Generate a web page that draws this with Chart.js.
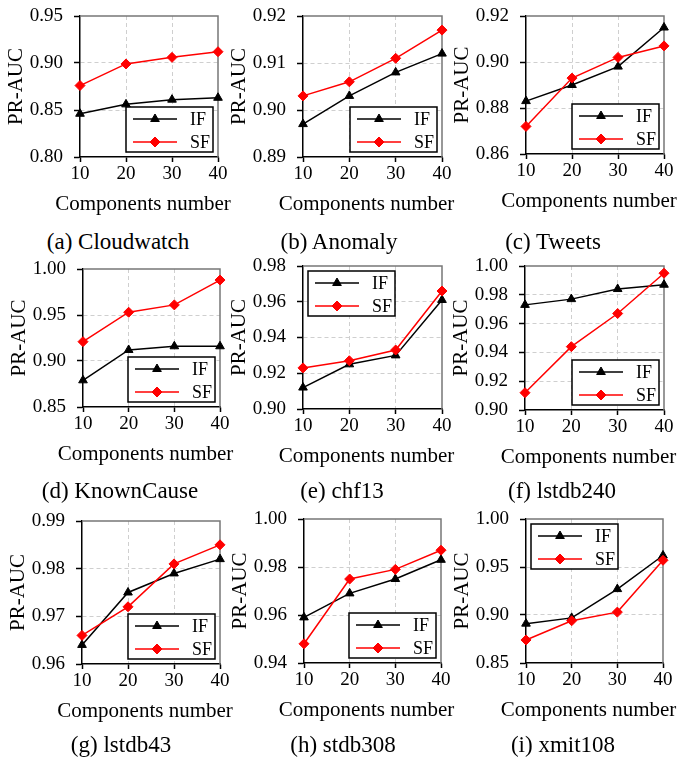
<!DOCTYPE html>
<html>
<head>
<meta charset="utf-8">
<script src="https://cdn.jsdelivr.net/npm/chart.js@4/dist/chart.umd.min.js"></script>
<style>
  html, body { margin:0; padding:0; background:#fff; }
  #page { position:relative; width:677px; height:761px; overflow:hidden; background:#fff; }
  canvas { position:absolute; }
  .cap { position:absolute; width:220px; text-align:center; font-family:"Liberation Serif","Times New Roman",serif; font-size:23px; line-height:26px; color:#000; white-space:nowrap; }
</style>
</head>
<body>
<div id="page"></div>
<script>
// ---------- data ----------
const components = ['10', '20', '30', '40'];
const xTitle = 'Components number';
const yTitle = 'PR-AUC';

const cloudwatchIF = [0.846, 0.856, 0.861, 0.863];
const cloudwatchSF = [0.876, 0.899, 0.906, 0.912];
const cloudwatchTicks = [0.80, 0.85, 0.90, 0.95];

const anomalyIF = [0.897, 0.903, 0.908, 0.912];
const anomalySF = [0.903, 0.906, 0.911, 0.917];
const anomalyTicks = [0.89, 0.90, 0.91, 0.92];

const tweetsIF = [0.883, 0.890, 0.898, 0.915];
const tweetsSF = [0.872, 0.893, 0.902, 0.907];
const tweetsTicks = [0.86, 0.88, 0.90, 0.92];

const knownCauseIF = [0.879, 0.912, 0.916, 0.916];
const knownCauseSF = [0.921, 0.953, 0.961, 0.988];
const knownCauseTicks = [0.85, 0.90, 0.95, 1.00];

const chf13IF = [0.912, 0.925, 0.930, 0.961];
const chf13SF = [0.923, 0.927, 0.933, 0.966];
const chf13Ticks = [0.90, 0.92, 0.94, 0.96, 0.98];

const lstdb240IF = [0.973, 0.977, 0.984, 0.987];
const lstdb240SF = [0.912, 0.944, 0.967, 0.995];
const lstdb240Ticks = [0.90, 0.92, 0.94, 0.96, 0.98, 1.00];

const lstdb43IF = [0.964, 0.975, 0.979, 0.982];
const lstdb43SF = [0.966, 0.972, 0.981, 0.985];
const lstdb43Ticks = [0.96, 0.97, 0.98, 0.99];

const stdb308IF = [0.959, 0.969, 0.975, 0.983];
const stdb308SF = [0.948, 0.975, 0.979, 0.987];
const stdb308Ticks = [0.94, 0.96, 0.98, 1.00];

const xmit108IF = [0.891, 0.897, 0.927, 0.962];
const xmit108SF = [0.874, 0.894, 0.903, 0.957];
const xmit108Ticks = [0.85, 0.90, 0.95, 1.00];

const captions = ['(a) Cloudwatch', '(b) Anomaly', '(c) Tweets', '(d) KnownCause', '(e) chf13',
                  '(f) lstdb240', '(g) lstdb43', '(h) stdb308', '(i) xmit108'];
const seriesIF = [cloudwatchIF, anomalyIF, tweetsIF, knownCauseIF, chf13IF, lstdb240IF, lstdb43IF, stdb308IF, xmit108IF];
const seriesSF = [cloudwatchSF, anomalySF, tweetsSF, knownCauseSF, chf13SF, lstdb240SF, lstdb43SF, stdb308SF, xmit108SF];
const tickSets = [cloudwatchTicks, anomalyTicks, tweetsTicks, knownCauseTicks, chf13Ticks, lstdb240Ticks, lstdb43Ticks, stdb308Ticks, xmit108Ticks];
const legendCorner = ['lr', 'lr', 'lr', 'lr', 'ul', 'lr', 'lr', 'lr', 'ul'];

// ---------- layout (plot rectangles L,T,R,B and caption centres) ----------
const plotRects = [
  [80, 16, 218, 157], [303, 16, 442, 157], [526, 16, 664, 154],
  [83, 269, 220, 407], [303, 266, 442, 409], [525, 266, 664, 410],
  [82, 521, 220, 664], [304, 519, 441, 663], [526, 519, 663, 663]
];
const captionPos = [
  [118, 242], [339, 242], [553, 242],
  [120, 491], [342, 491], [562, 491],
  [121, 745], [343, 745], [563, 745]
];

const FONT = '"Liberation Serif", "Times New Roman", serif';
Chart.defaults.font.family = FONT;
Chart.defaults.color = '#000';

function drawMarker(ctx, style, x, y, r) {
  ctx.beginPath();
  if (style === 'triangle') {
    ctx.moveTo(x, y - r);
    ctx.lineTo(x + r * 0.866, y + r * 0.5);
    ctx.lineTo(x - r * 0.866, y + r * 0.5);
  } else {
    ctx.moveTo(x, y - r);
    ctx.lineTo(x + r, y);
    ctx.lineTo(x, y + r);
    ctx.lineTo(x - r, y);
  }
  ctx.closePath();
  ctx.fill();
  ctx.stroke();
}

const frameLines = {
  id: 'frameLines',
  beforeDatasetsDraw(chart) {
    const { ctx, chartArea: a } = chart;
    ctx.save();
    ctx.strokeStyle = '#777';
    ctx.lineWidth = 1.5;
    ctx.beginPath();
    ctx.moveTo(a.left, a.top);
    ctx.lineTo(a.right, a.top);
    ctx.lineTo(a.right, a.bottom);
    ctx.stroke();
    ctx.restore();
  }
};

// x-axis title drawn without width compression
const xAxisTitle = {
  id: 'xAxisTitle',
  afterDraw(chart, args, opts) {
    const { ctx, chartArea: a } = chart;
    ctx.save();
    ctx.font = '21px ' + FONT;
    ctx.fillStyle = '#000';
    ctx.textAlign = 'center';
    ctx.textBaseline = 'middle';
    ctx.fillText(opts.text, (a.left + a.right) / 2 - 6, a.bottom + 47);
    ctx.restore();
  }
};

const insideLegend = {
  id: 'insideLegend',
  afterDatasetsDraw(chart, args, opts) {
    const { ctx, chartArea: a } = chart;
    const w = 87, h = 45, inset = 5;
    let x, y;
    if (opts.corner === 'ul') { x = a.left + inset; y = a.top + inset; }
    else { x = a.right - inset - w; y = a.bottom - inset - h; }
    ctx.save();
    ctx.fillStyle = '#fff';
    ctx.fillRect(x, y, w, h);
    ctx.lineWidth = 1.5;
    ctx.strokeStyle = '#000';
    ctx.strokeRect(x, y, w, h);
    chart.data.datasets.forEach((ds, i) => {
      const cy = y + 12 + i * 23;
      ctx.strokeStyle = ds.borderColor;
      ctx.lineWidth = ds.borderWidth;
      ctx.beginPath();
      ctx.moveTo(x + 7, cy);
      ctx.lineTo(x + 51, cy);
      ctx.stroke();
      ctx.fillStyle = ds.pointBackgroundColor;
      ctx.strokeStyle = ds.pointBorderColor;
      ctx.lineWidth = 1;
      drawMarker(ctx, ds.pointStyle, x + 29, cy, ds.pointRadius);
      ctx.fillStyle = '#000';
      ctx.font = '18px ' + FONT;
      ctx.textBaseline = 'middle';
      ctx.textAlign = 'left';
      ctx.fillText(ds.label, x + 64, cy + 1);
    });
    ctx.restore();
  }
};

const page = document.getElementById('page');

plotRects.forEach((r, i) => {
  const [L, T, R, B] = r;
  const yAxisW = 80, xAxisH = 59, padTop = 16, padRight = 22, padBottom = 3;
  const cw = (R - L) + yAxisW + padRight;
  const ch = (B - T) + padTop + xAxisH + padBottom;
  const canvas = document.createElement('canvas');
  canvas.width = cw; canvas.height = ch;
  canvas.style.left = (L - yAxisW) + 'px';
  canvas.style.top = (T - padTop) + 'px';
  canvas.style.width = cw + 'px';
  canvas.style.height = ch + 'px';
  page.appendChild(canvas);

  const ticks = tickSets[i];
  const gridColor = '#cfcfcf';

  new Chart(canvas, {
    type: 'line',
    data: {
      labels: components,
      datasets: [
        {
          label: 'IF', data: seriesIF[i],
          borderColor: '#000', backgroundColor: '#000', borderWidth: 1.5,
          pointStyle: 'triangle', pointRadius: 5, pointHoverRadius: 5,
          pointBackgroundColor: '#000', pointBorderColor: '#000', pointBorderWidth: 1,
          tension: 0, clip: false, order: 2
        },
        {
          label: 'SF', data: seriesSF[i],
          borderColor: '#ff0000', backgroundColor: '#ff0000', borderWidth: 1.5,
          pointStyle: 'rectRot', pointRadius: 5, pointHoverRadius: 5,
          pointBackgroundColor: '#ff0000', pointBorderColor: '#ff0000', pointBorderWidth: 1,
          tension: 0, clip: false, order: 1
        }
      ]
    },
    options: {
      responsive: false,
      animation: false,
      devicePixelRatio: 1,
      layout: { padding: { left: 0, top: padTop, right: padRight, bottom: padBottom } },
      plugins: {
        legend: { display: false },
        tooltip: { enabled: false },
        insideLegend: { corner: legendCorner[i] },
        xAxisTitle: { text: xTitle }
      },
      scales: {
        x: {
          type: 'category',
          offset: false,
          grid: {
            color: c => (c.index === 0 || c.index === components.length - 1) ? 'rgba(0,0,0,0)' : gridColor,
            lineWidth: 1, tickColor: '#000', tickLength: 5, tickWidth: 1.5
          },
          border: { color: '#000', width: 1.5, dash: [4, 3] },
          ticks: { font: { size: 19 }, padding: 1, color: '#000', maxRotation: 0, autoSkip: false },
          title: { display: false },
          afterFit(s) { s.height = xAxisH; s.paddingLeft = 0; s.paddingRight = 0; }
        },
        y: {
          type: 'linear',
          min: ticks[0], max: ticks[ticks.length - 1],
          afterBuildTicks(s) { s.ticks = ticks.map(v => ({ value: v })); },
          grid: {
            color: c => (c.index === 0 || c.index === ticks.length - 1) ? 'rgba(0,0,0,0)' : gridColor,
            lineWidth: 1, tickColor: '#000', tickLength: 6, tickWidth: 1.5
          },
          border: { color: '#000', width: 1.5, dash: [4, 3] },
          ticks: { font: { size: 19 }, padding: 11, color: '#000', callback: v => Number(v).toFixed(2) },
          title: { display: true, text: yTitle, font: { size: 21 }, color: '#000', padding: { top: 4, bottom: 0 } },
          afterFit(s) { s.width = yAxisW; s.paddingTop = 0; s.paddingBottom = 0; }
        }
      }
    },
    plugins: [frameLines, insideLegend, xAxisTitle]
  });

  const cap = document.createElement('div');
  cap.className = 'cap';
  cap.textContent = captions[i];
  cap.style.left = (captionPos[i][0] - 110) + 'px';
  cap.style.top = (captionPos[i][1] - 13) + 'px';
  page.appendChild(cap);
});
</script>
</body>
</html>
